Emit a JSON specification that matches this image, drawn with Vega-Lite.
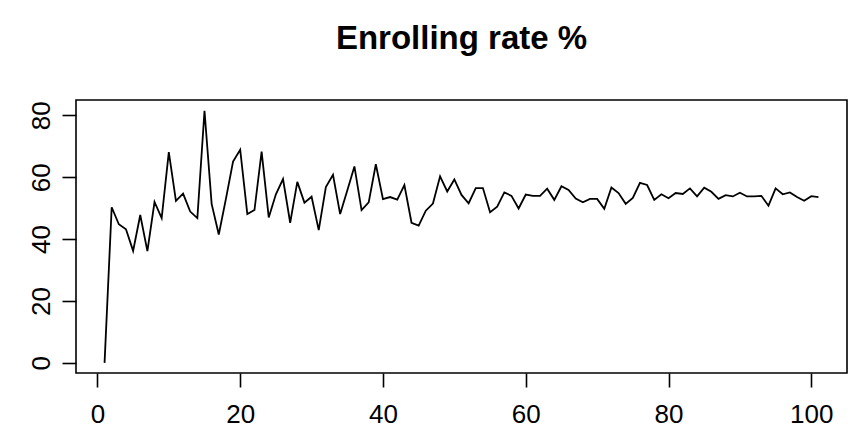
{
  "$schema": "https://vega.github.io/schema/vega-lite/v6.json",
  "width": 771,
  "height": 273,
  "autosize": {"type": "none"},
  "padding": {"left": 76, "top": 100, "right": 1, "bottom": 64},
  "background": "white",
  "config": {
    "view": {"stroke": "black", "strokeWidth": 1.6},
    "font": "Liberation Sans",
    "axis": {
      "grid": false,
      "domain": false,
      "tickColor": "black",
      "tickWidth": 1.6,
      "tickSize": 14,
      "labelColor": "black",
      "labelFont": "Liberation Sans",
      "labelFontSize": 26,
      "title": null
    }
  },
  "title": {
    "text": "Enrolling rate %",
    "font": "Liberation Sans",
    "fontSize": 33,
    "fontWeight": "bold",
    "color": "black",
    "anchor": "middle",
    "baseline": "alphabetic",
    "offset": 18
  },
  "data": {
    "values": [
      {"i": 1, "rate": 0}, {"i": 2, "rate": 50.3}, {"i": 3, "rate": 44.8}, {"i": 4, "rate": 43.2},
      {"i": 5, "rate": 36.2}, {"i": 6, "rate": 47.8}, {"i": 7, "rate": 36.1}, {"i": 8, "rate": 52.0},
      {"i": 9, "rate": 46.8}, {"i": 10, "rate": 68.1}, {"i": 11, "rate": 52.4}, {"i": 12, "rate": 54.7},
      {"i": 13, "rate": 48.9}, {"i": 14, "rate": 46.8}, {"i": 15, "rate": 81.5}, {"i": 16, "rate": 51.4},
      {"i": 17, "rate": 41.5}, {"i": 18, "rate": 53.0}, {"i": 19, "rate": 65.1}, {"i": 20, "rate": 68.9},
      {"i": 21, "rate": 48.1}, {"i": 22, "rate": 49.4}, {"i": 23, "rate": 68.3}, {"i": 24, "rate": 47.0},
      {"i": 25, "rate": 54.5}, {"i": 26, "rate": 59.4}, {"i": 27, "rate": 45.3}, {"i": 28, "rate": 58.5},
      {"i": 29, "rate": 51.8}, {"i": 30, "rate": 53.7}, {"i": 31, "rate": 42.9}, {"i": 32, "rate": 56.8},
      {"i": 33, "rate": 60.8}, {"i": 34, "rate": 48.1}, {"i": 35, "rate": 55.7}, {"i": 36, "rate": 63.5},
      {"i": 37, "rate": 49.4}, {"i": 38, "rate": 51.9}, {"i": 39, "rate": 64.2}, {"i": 40, "rate": 52.9},
      {"i": 41, "rate": 53.6}, {"i": 42, "rate": 52.8}, {"i": 43, "rate": 57.5}, {"i": 44, "rate": 45.3},
      {"i": 45, "rate": 44.4}, {"i": 46, "rate": 49.2}, {"i": 47, "rate": 51.5}, {"i": 48, "rate": 60.3},
      {"i": 49, "rate": 55.4}, {"i": 50, "rate": 59.3}, {"i": 51, "rate": 54.3}, {"i": 52, "rate": 51.6},
      {"i": 53, "rate": 56.5}, {"i": 54, "rate": 56.5}, {"i": 55, "rate": 48.7}, {"i": 56, "rate": 50.5},
      {"i": 57, "rate": 55.1}, {"i": 58, "rate": 54.0}, {"i": 59, "rate": 49.9}, {"i": 60, "rate": 54.4},
      {"i": 61, "rate": 54.0}, {"i": 62, "rate": 54.0}, {"i": 63, "rate": 56.3}, {"i": 64, "rate": 52.7},
      {"i": 65, "rate": 57.1}, {"i": 66, "rate": 55.9}, {"i": 67, "rate": 53.1}, {"i": 68, "rate": 51.9},
      {"i": 69, "rate": 53.0}, {"i": 70, "rate": 53.0}, {"i": 71, "rate": 49.8}, {"i": 72, "rate": 56.7},
      {"i": 73, "rate": 54.9}, {"i": 74, "rate": 51.4}, {"i": 75, "rate": 53.3}, {"i": 76, "rate": 58.2},
      {"i": 77, "rate": 57.5}, {"i": 78, "rate": 52.7}, {"i": 79, "rate": 54.5}, {"i": 80, "rate": 53.2},
      {"i": 81, "rate": 54.9}, {"i": 82, "rate": 54.6}, {"i": 83, "rate": 56.4}, {"i": 84, "rate": 53.8},
      {"i": 85, "rate": 56.6}, {"i": 86, "rate": 55.3}, {"i": 87, "rate": 53.0}, {"i": 88, "rate": 54.2},
      {"i": 89, "rate": 53.8}, {"i": 90, "rate": 55.0}, {"i": 91, "rate": 53.8}, {"i": 92, "rate": 53.8},
      {"i": 93, "rate": 54.0}, {"i": 94, "rate": 50.8}, {"i": 95, "rate": 56.4}, {"i": 96, "rate": 54.5},
      {"i": 97, "rate": 55.1}, {"i": 98, "rate": 53.6}, {"i": 99, "rate": 52.4}, {"i": 100, "rate": 53.9},
      {"i": 101, "rate": 53.6}
    ]
  },
  "mark": {"type": "line", "color": "black", "strokeWidth": 1.8, "strokeJoin": "miter", "clip": true},
  "encoding": {
    "x": {
      "field": "i",
      "type": "quantitative",
      "scale": {"domain": [-3, 105], "nice": false, "zero": false},
      "axis": {"values": [0, 20, 40, 60, 80, 100], "labelPadding": 14, "labelFlush": false}
    },
    "y": {
      "field": "rate",
      "type": "quantitative",
      "scale": {"domain": [-3.27, 84.97], "nice": false, "zero": false},
      "axis": {
        "values": [0, 20, 40, 60, 80],
        "labelAngle": 270,
        "labelAlign": "center",
        "labelBaseline": "alphabetic",
        "labelPadding": 13,
        "labelFlush": false
      }
    }
  }
}
